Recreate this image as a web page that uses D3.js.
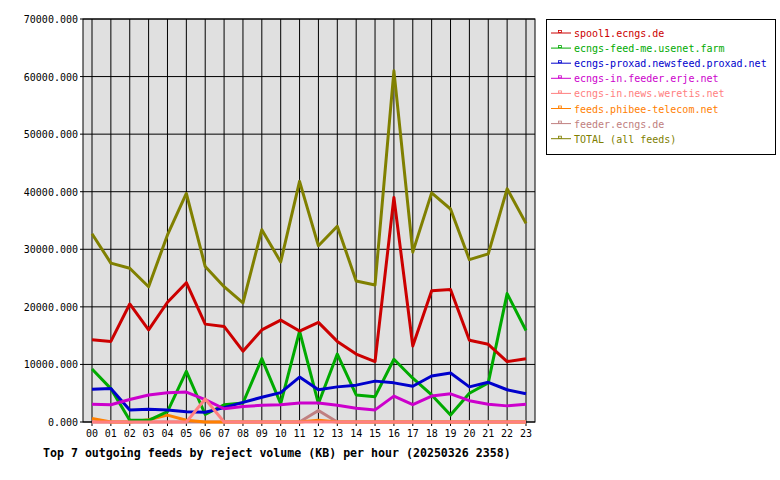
<!DOCTYPE html><html><head><meta charset="utf-8"><script src="https://cdn.jsdelivr.net/npm/d3@7"></script>
<style>body{margin:0;background:#fff}text{font-family:"DejaVu Sans Mono",monospace;font-size:10px}</style></head><body>
<svg id="c" width="780" height="480"></svg>
<script>
const hours=["00","01","02","03","04","05","06","07","08","09","10","11","12","13","14","15","16","17","18","19","20","21","22","23"];
const yTicks=[0,10000,20000,30000,40000,50000,60000,70000];
const names=["spool1.ecngs.de","ecngs-feed-me.usenet.farm","ecngs-proxad.newsfeed.proxad.net","ecngs-in.feeder.erje.net","ecngs-in.news.weretis.net","feeds.phibee-telecom.net","feeder.ecngs.de","TOTAL (all feeds)"];
const colors=["#cc0000","#00aa00","#0000cc","#cc00cc","#ff8080","#ff8000","#c08080","#808000"];
const spool1=[14300,14000,20500,16000,20800,24200,17000,16600,12300,16000,17700,15800,17300,14000,11800,10500,39000,13200,22800,23000,14200,13500,10500,11000];
const usenet=[9200,5800,300,300,1800,8800,1300,3000,3300,11000,3200,15800,3200,11800,4700,4400,10900,7600,4700,1200,5000,6800,22300,15900];
const proxad=[5700,5800,2100,2200,2100,1800,1700,2500,3400,4300,5100,7800,5600,6100,6400,7100,6800,6200,8000,8500,6100,6900,5600,4900];
const erje=[3100,3000,3900,4700,5100,5200,3900,2300,2700,2900,3000,3300,3300,2900,2400,2100,4500,3000,4500,4900,3700,3100,2800,3100];
const weretis=[0,0,0,0,0,0,4000,0,0,0,0,0,0,0,0,0,0,0,0,0,0,0,0,0];
const phibee=[600,0,0,400,1200,300,0,0,0,0,0,0,300,0,0,0,0,0,0,0,0,0,0,0];
const feeder=[0,0,0,0,0,0,0,0,0,0,0,0,2000,0,0,0,0,0,0,0,0,0,0,0];
const total=[32700,27600,26700,23500,32500,39700,27000,23500,20700,33400,27800,41800,30600,34000,24500,23800,61000,29500,39800,37000,28200,29200,40500,34500];
const series=[spool1,usenet,proxad,erje,weretis,phibee,feeder,total];
const svg=d3.select("#c");
const L=83,R=535,T=19,B=422;
const x=d3.scalePoint().domain(hours).range([92,526]);
const y=d3.scaleLinear().domain([0,70000]).range([B,T]);
svg.append("rect").attr("x",L).attr("y",T).attr("width",R-L).attr("height",B-T).attr("fill","#e0e0e0");
hours.forEach(h=>svg.append("line").attr("x1",x(h)).attr("x2",x(h)).attr("y1",T).attr("y2",B+4).attr("stroke","#000"));
yTicks.forEach(v=>{svg.append("line").attr("x1",L-3).attr("x2",R).attr("y1",y(v)).attr("y2",y(v)).attr("stroke","#000");
 svg.append("text").attr("x",L-5).attr("y",y(v)+4).attr("text-anchor","end").text(v.toFixed(3));});
svg.append("rect").attr("x",L).attr("y",T).attr("width",R-L).attr("height",B-T).attr("fill","none").attr("stroke","#000");
hours.forEach(h=>svg.append("text").attr("x",x(h)).attr("y",B+15).attr("text-anchor","middle").text(h));
const line=d3.line().x((d,i)=>x(hours[i])).y(d=>y(d));
[6,5,1,2,3,4,0,7].forEach(k=>svg.append("path").attr("d",line(series[k])).attr("fill","none").attr("stroke",colors[k]).attr("stroke-width",3).attr("stroke-linejoin","round"));
svg.append("text").attr("x",43).attr("y",457).attr("font-weight","bold").style("font-size","11.6px").text("Top 7 outgoing feeds by reject volume (KB) per hour (20250326 2358)");
svg.append("rect").attr("x",546.5).attr("y",19.5).attr("width",229).attr("height",135).attr("fill","#fff").attr("stroke","#000");
names.forEach((n,i)=>{const yy=33+i*15.1;
 svg.append("line").attr("x1",551).attr("x2",571).attr("y1",yy).attr("y2",yy).attr("stroke",colors[i]);
 svg.append("rect").attr("x",558.5).attr("y",yy-2.5).attr("width",3).attr("height",2).attr("fill","none").attr("stroke",colors[i]).attr("stroke-width",0.8);
 svg.append("text").attr("x",574).attr("y",yy+4).attr("fill",colors[i]).text(n);});
</script></body></html>
